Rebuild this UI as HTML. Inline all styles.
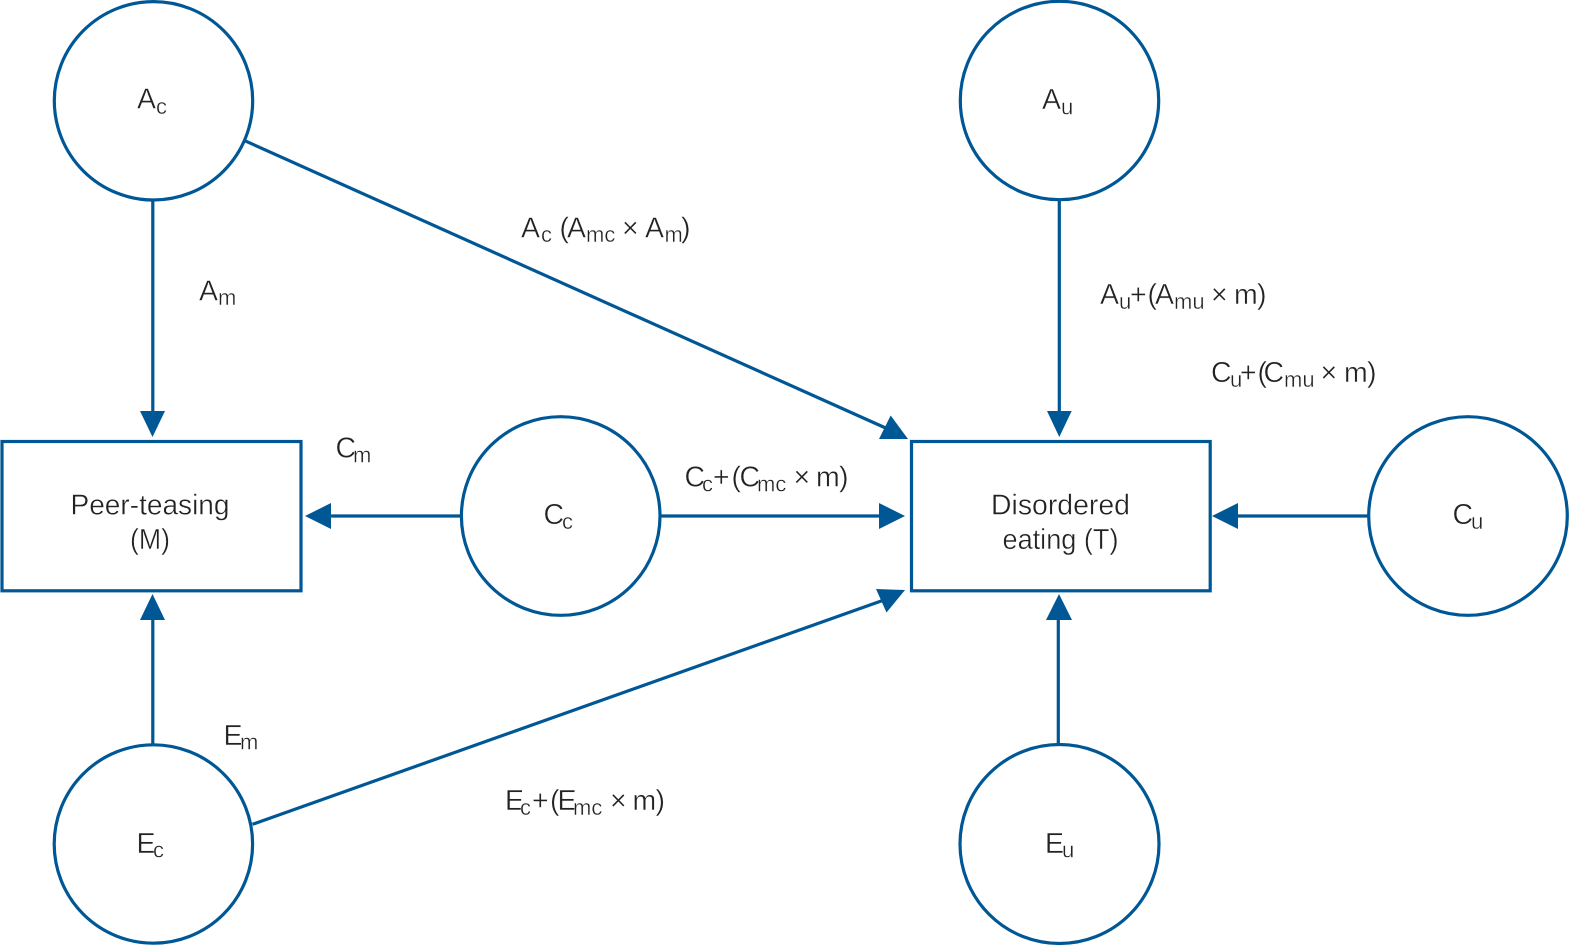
<!DOCTYPE html>
<html><head><meta charset="utf-8">
<style>
html,body{margin:0;padding:0;background:#fff}
svg{display:block}
text{font-family:"Liberation Sans",sans-serif;font-size:28.500px;fill:#222;stroke:#fff;stroke-width:.4px}
tspan.s{font-size:22px}
</style></head>
<body>
<svg width="1570" height="946" viewBox="0 0 1570 946" xmlns="http://www.w3.org/2000/svg">
<g fill="none" stroke="#005795" stroke-width="3.2">
<circle cx="153.500" cy="100.800" r="99.200"/>
<circle cx="1059.500" cy="100.500" r="99.200"/>
<circle cx="560.700" cy="516" r="99.300"/>
<circle cx="1468" cy="516" r="99.300"/>
<circle cx="153.400" cy="844" r="99.200"/>
<circle cx="1059.500" cy="844" r="99.500"/>
<rect x="2" y="441.500" width="299" height="149.300"/>
<rect x="911.500" y="441.500" width="298.700" height="149.300"/>
<path d="M152.800 200V415"/>
<path d="M1059.300 199V415"/>
<path d="M152.800 745V617"/>
<path d="M1058.300 744V617"/>
<path d="M461 516H328"/>
<path d="M660 516H882"/>
<path d="M1368 516H1235"/>
<path d="M245 140.800L889 429.500"/>
<path d="M252.500 824.300L884 600"/>
</g>
<g fill="#005795">
<path d="M152.500 437L140 411H165Z"/>
<path d="M1059.300 437L1047 411H1071.700Z"/>
<path d="M152.500 594L140 620H165Z"/>
<path d="M1059 594L1046 620H1072Z"/>
<path d="M305 516L331 503V529Z"/>
<path d="M905 516L879 503V529Z"/>
<path d="M1212 516L1238 503V529Z"/>
<path d="M908 439L879 439L890.700 415.500Z"/>
<path d="M905 590L876 589L886.500 612.500Z"/>
</g>
<text><tspan x="137" y="108.500">A</tspan><tspan class="s" x="156" y="114">c</tspan></text>
<text><tspan x="1042" y="109">A</tspan><tspan class="s" x="1061" y="114.500">u</tspan></text>
<text><tspan x="543.500" y="524">C</tspan><tspan class="s" x="562" y="529">c</tspan></text>
<text><tspan x="1452.500" y="524">C</tspan><tspan class="s" x="1471" y="529">u</tspan></text>
<text><tspan x="136.500" y="853">E</tspan><tspan class="s" x="153" y="857.500">c</tspan></text>
<text><tspan x="1045" y="853">E</tspan><tspan class="s" x="1062" y="857.500">u</tspan></text>
<text x="70.500" y="514.700" textLength="159" lengthAdjust="spacingAndGlyphs">Peer-teasing</text>
<text x="130" y="549.200" textLength="40" lengthAdjust="spacingAndGlyphs">(M)</text>
<text x="991" y="514.700" textLength="139" lengthAdjust="spacingAndGlyphs">Disordered</text>
<text x="1002.500" y="549.200" textLength="116" lengthAdjust="spacingAndGlyphs">eating (T)</text>
<text><tspan x="199" y="300.500">A</tspan><tspan class="s" x="218" y="305">m</tspan></text>
<text><tspan x="335.500" y="457.700">C</tspan><tspan class="s" x="353" y="462.500">m</tspan></text>
<text><tspan x="223.500" y="745">E</tspan><tspan class="s" x="240" y="749.500">m</tspan></text>
<text><tspan x="521" y="237.500">A</tspan><tspan class="s" x="541" y="242">c</tspan><tspan x="559.500" y="237.500">(</tspan><tspan x="567" y="237.500">A</tspan><tspan class="s" x="586" y="242">mc</tspan><tspan x="622" y="237.500">×</tspan><tspan x="645" y="237.500">A</tspan><tspan class="s" x="664.500" y="242">m</tspan><tspan x="681" y="237.500">)</tspan></text>
<text><tspan x="1100" y="304">A</tspan><tspan class="s" x="1119" y="309">u</tspan><tspan x="1130" y="304">+</tspan><tspan x="1147.500" y="304">(</tspan><tspan x="1155" y="304">A</tspan><tspan class="s" x="1174" y="309">mu</tspan><tspan x="1211" y="304">×</tspan><tspan x="1234" y="304">m</tspan><tspan x="1257" y="304">)</tspan></text>
<text><tspan x="1211" y="382">C</tspan><tspan class="s" x="1230" y="387">u</tspan><tspan x="1240" y="382">+</tspan><tspan x="1257.500" y="382">(</tspan><tspan x="1263.500" y="382">C</tspan><tspan class="s" x="1284" y="387">mu</tspan><tspan x="1320.500" y="382">×</tspan><tspan x="1344" y="382">m</tspan><tspan x="1367" y="382">)</tspan></text>
<text><tspan x="684.500" y="486.500">C</tspan><tspan class="s" x="702" y="491.500">c</tspan><tspan x="713" y="486.500">+</tspan><tspan x="731.500" y="486.500">(</tspan><tspan x="739.500" y="486.500">C</tspan><tspan class="s" x="757" y="491.500">mc</tspan><tspan x="793.500" y="486.500">×</tspan><tspan x="816" y="486.500">m</tspan><tspan x="839" y="486.500">)</tspan></text>
<text><tspan x="505" y="810">E</tspan><tspan class="s" x="520" y="815">c</tspan><tspan x="532" y="810">+</tspan><tspan x="550" y="810">(</tspan><tspan x="557.500" y="810">E</tspan><tspan class="s" x="573" y="815">mc</tspan><tspan x="610" y="810">×</tspan><tspan x="632.500" y="810">m</tspan><tspan x="655.500" y="810">)</tspan></text>
</svg>
</body></html>
